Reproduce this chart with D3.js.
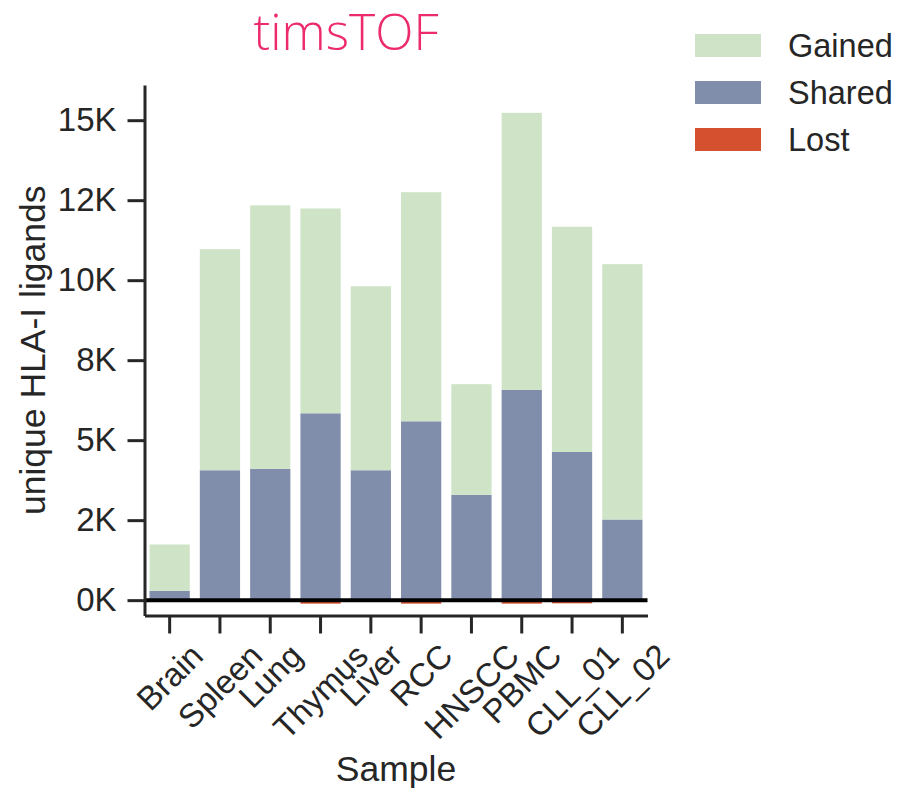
<!DOCTYPE html>
<html>
<head>
<meta charset="utf-8">
<script src="https://cdn.jsdelivr.net/npm/d3@7"></script>
<style>
  html, body { margin: 0; padding: 0; background: #fff; }
  svg { display: block; font-family: "Liberation Sans", Arial, sans-serif; }
</style>
</head>
<body>
<svg id="chart" width="897" height="790"></svg>
<script>
// Samples and ligand counts per sample
const samples = ["Brain", "Spleen", "Lung", "Thymus", "Liver", "RCC", "HNSCC", "PBMC", "CLL_01", "CLL_02"];
const shared  = [290, 4060, 4100, 5840, 4060, 5590, 3290, 6570, 4630, 2520];
const gained  = [1450, 6910, 8240, 6400, 5750, 7160, 3460, 8660, 7040, 7980];
const lost    = [0, 0, 0, -110, 0, -110, 0, -110, -100, 0];

const yTickValues = [0, 2500, 5000, 7500, 10000, 12500, 15000];
const yTickLabels = ["0K", "2K", "5K", "8K", "10K", "12K", "15K"];

const seriesNames  = ["Gained", "Shared", "Lost"];
const seriesColors = { Gained: "#cfe4c7", Shared: "#818eab", Lost: "#d5502f" };

const rows = samples.map((s, i) => ({ sample: s, Shared: shared[i], Gained: gained[i], Lost: lost[i] }));

const svg = d3.select("#chart");
const margin = { left: 144.5, top: 85 };
const W = 503;
const H = 530.5;
const ink = "#262626";

const x = d3.scaleBand().domain(samples).range([0, W]).paddingInner(0.2).paddingOuter(0.1);
const y = d3.scaleLinear().domain([-480, 16100]).range([H, 0]);

const g = svg.append("g").attr("transform", `translate(${margin.left},${margin.top})`);

// Stacked bars: Shared at the base, Gained on top
const stack = d3.stack().keys(["Shared", "Gained"]);
const layers = stack(rows);
g.selectAll("g.layer").data(layers).join("g")
  .attr("class", "layer")
  .attr("fill", d => seriesColors[d.key])
  .selectAll("rect").data(d => d).join("rect")
  .attr("x", d => x(d.data.sample))
  .attr("width", x.bandwidth())
  .attr("y", d => y(d[1]))
  .attr("height", d => y(d[0]) - y(d[1]));

// Lost ligands hang below zero
g.append("g").attr("fill", seriesColors.Lost)
  .selectAll("rect").data(rows).join("rect")
  .attr("x", d => x(d.sample))
  .attr("width", x.bandwidth())
  .attr("y", y(0))
  .attr("height", d => y(d.Lost) - y(0));

// Zero reference line
g.append("line")
  .attr("x1", 0).attr("x2", W)
  .attr("y1", y(0)).attr("y2", y(0))
  .attr("stroke", "#000").attr("stroke-width", 4);

// Y axis
const yAxis = d3.axisLeft(y)
  .tickValues(yTickValues)
  .tickFormat((d, i) => yTickLabels[i])
  .tickSize(17).tickSizeOuter(0).tickPadding(11);
const gy = g.append("g").call(yAxis);
gy.select(".domain").attr("stroke", ink).attr("stroke-width", 3);
gy.selectAll(".tick line").attr("stroke", ink).attr("stroke-width", 3);
gy.selectAll(".tick text").attr("fill", ink).attr("font-size", 33).attr("font-family", "Liberation Sans, Arial, sans-serif");

// X axis
const xAxis = d3.axisBottom(x).tickSize(18).tickSizeOuter(0).tickFormat("");
const gx = g.append("g").attr("transform", `translate(0,${H})`).call(xAxis);
gx.select(".domain").attr("stroke", ink).attr("stroke-width", 3);
gx.selectAll(".tick line").attr("stroke", ink).attr("stroke-width", 3);

// Rotated sample labels, each centred under its tick
const labelTop = H + 25;
const fs = 33;
const xl = g.append("g").attr("font-size", fs).attr("fill", ink);
samples.forEach(s => {
  const t = xl.append("text").text(s).attr("text-anchor", "middle").attr("dy", "0.35em");
  const w = t.node().getComputedTextLength();
  const side = (w + fs * 0.8) * Math.SQRT1_2;
  t.attr("transform", `translate(${x(s) + x.bandwidth() / 2},${labelTop + side / 2}) rotate(-45)`);
});

// Axis titles
g.append("text")
  .attr("x", W / 2).attr("y", 781 - margin.top)
  .attr("text-anchor", "middle")
  .attr("font-size", 35.5).attr("fill", ink)
  .text("Sample");
g.append("text")
  .attr("transform", `translate(${33 - margin.left},${H / 2}) rotate(-90)`)
  .attr("text-anchor", "middle").attr("dy", "0.35em")
  .attr("font-size", 35.5).attr("fill", ink)
  .text("unique HLA-I ligands");

// Chart title
svg.append("text")
  .attr("x", 346).attr("y", 50)
  .attr("text-anchor", "middle")
  .attr("font-family", "'Open Sans', 'Noto Sans', sans-serif")
  .attr("font-weight", 300)
  .attr("font-size", 50)
  .attr("fill", "#ec2a6d")
  .text("timsTOF");

// Legend
const legend = svg.append("g").attr("transform", "translate(695,34)");
seriesNames.forEach((name, i) => {
  const row = legend.append("g").attr("transform", `translate(0,${i * 47})`);
  row.append("rect").attr("width", 66).attr("height", 23).attr("fill", seriesColors[name]);
  row.append("text").attr("x", 93).attr("y", 11.5).attr("dy", "0.35em")
    .attr("font-size", 32.5).attr("fill", ink).text(name);
});
</script>
</body>
</html>
